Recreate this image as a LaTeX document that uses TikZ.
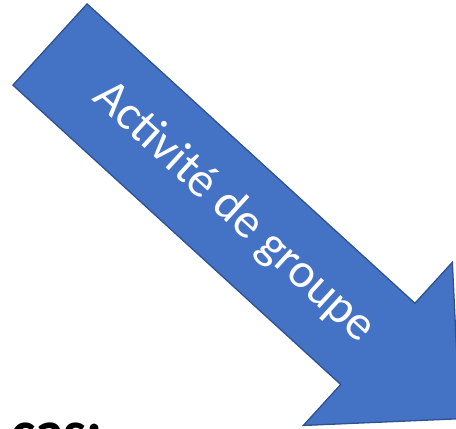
\documentclass[tikz,border=0pt]{standalone}
\usepackage{fontspec}
\setmainfont{Carlito}
\definecolor{arrowblue}{HTML}{4472C4}
\definecolor{arrowedge}{HTML}{2F528F}
\tikzset{
  bigarrow/.style = {
    fill=arrowblue,
    draw=arrowedge,
    line width=1.3pt,
    line join=miter
  },
  arrowlabel/.style = {
    text=white,
    font=\fontsize{49}{52}\selectfont,
    inner sep=0pt
  }
}

\begin{document}
\begin{tikzpicture}[x=1pt,y=-1pt]
    \useasboundingbox (0,0) rectangle (456,429);
    \begin{scope}[shift={(50,44.5)},rotate=-42.4]
      \draw[bigarrow] (0,-55) -- (444,-55) -- (444,-110.5) -- (555,0)
        -- (444,110.5) -- (444,55) -- (0,55) -- cycle;
      \node[arrowlabel,rotate=-42.4] (label) at (249,0) {Activité de groupe};
    \end{scope}
    \node[anchor=base west,inner sep=0pt,font=\fontsize{58}{60}\selectfont\bfseries] (cas) at (11,451) {cas:};
\end{tikzpicture}
\end{document}
